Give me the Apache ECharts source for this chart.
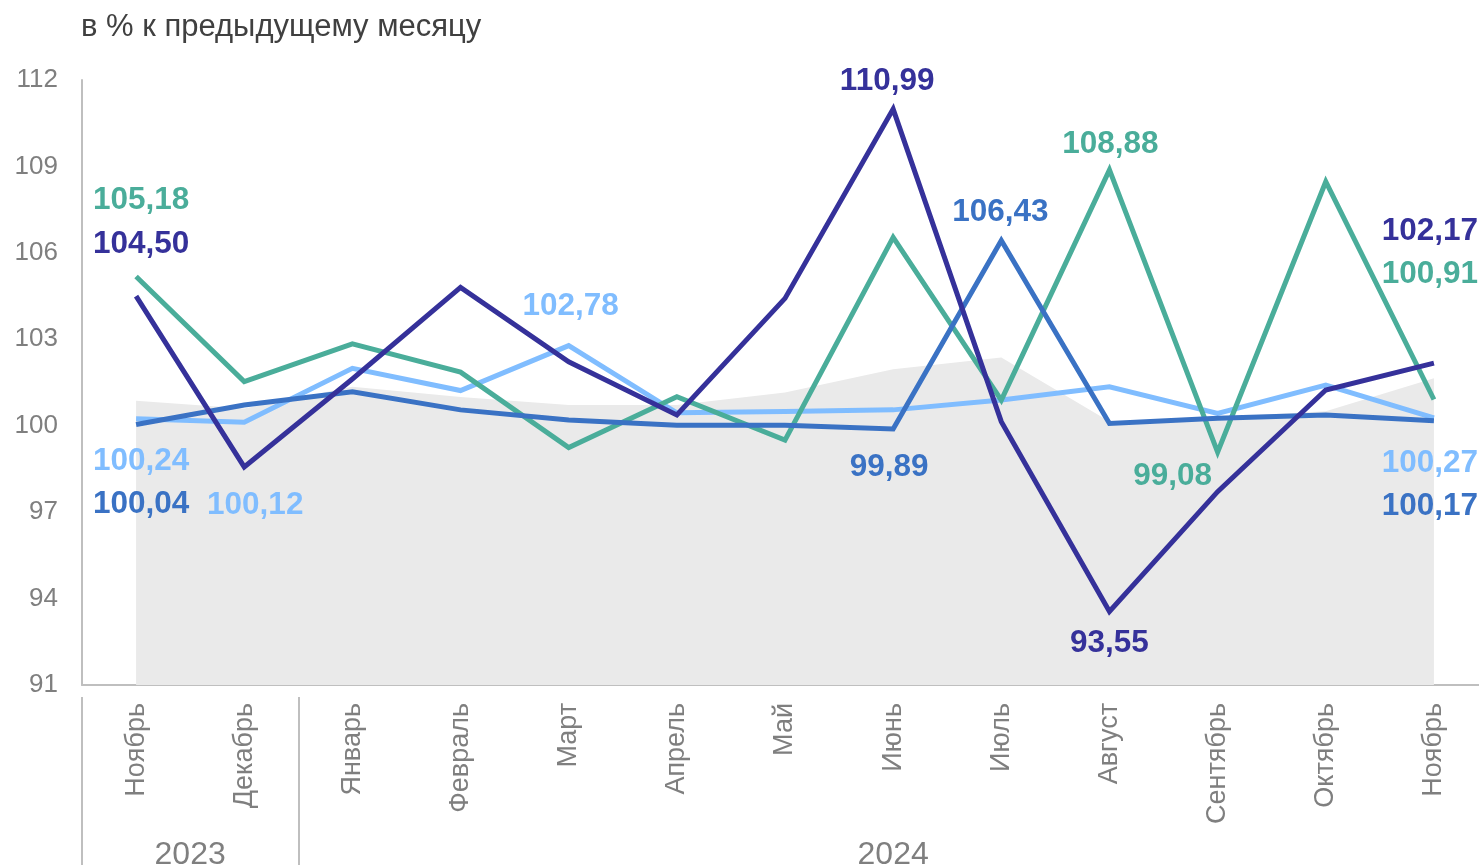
<!DOCTYPE html>
<html><head><meta charset="utf-8">
<script src="https://cdn.jsdelivr.net/npm/echarts@6/dist/echarts.min.js"></script>
<style>html,body{margin:0;padding:0;background:#fff;overflow:hidden}#c{width:1479px;height:865px}</style>
</head><body><div id="c"></div>
<script>
const months = ['Ноябрь','Декабрь','Январь','Февраль','Март','Апрель','Май','Июнь','Июль','Август','Сентябрь','Октябрь','Ноябрь'];
const years = ['2023','2024'];
const yearSpans = [2, 11];
const yTicks = [91, 94, 97, 100, 103, 106, 109, 112];
const background = [100.87, 100.6, 101.35, 101.0, 100.72, 100.72, 101.15, 101.96, 102.37, 100.15, 100.3, 100.5, 101.65];
const lightBlue = [100.24, 100.12, 101.99, 101.22, 102.78, 100.45, 100.49, 100.55, 100.89, 101.35, 100.43, 101.41, 100.27];
const midBlue = [100.04, 100.72, 101.18, 100.55, 100.2, 100.02, 100.02, 99.89, 106.43, 100.08, 100.26, 100.37, 100.17];
const teal = [105.18, 101.53, 102.84, 101.86, 99.24, 101.01, 99.5, 106.54, 100.89, 108.88, 99.08, 108.47, 100.91];
const navy = [104.50, 98.57, 101.62, 104.8, 102.22, 100.37, 104.42, 110.99, 100.14, 93.55, 97.71, 101.24, 102.17];

const FONT = '"Liberation Sans", Arial, sans-serif';
const fmt = v => v.toFixed(2).replace('.', ',');

// label placements (index -> [dx, dy] offset from point)
const labelPlacement = {
  lightBlue: {0: [5, 43], 1: [11, 83], 4: [2, -39], 12: [-4, 45]},
  midBlue: {0: [5, 80], 7: [-4, 38], 8: [-1, -28], 12: [-4, 85]},
  teal: {0: [5, -76], 9: [1, -26], 10: [-45, 24], 12: [-4, -125]},
  navy: {0: [5, -52], 7: [-6, -28], 9: [0, 32], 12: [-4, -132]}
};

function buildData(values, key, color) {
  const place = labelPlacement[key];
  return values.map((v, i) => {
    const item = {value: v};
    if (place[i]) {
      item.label = {show: true, position: 'inside', offset: place[i], formatter: fmt(v),
        color: color, fontSize: 31.5, fontWeight: 'bold', fontFamily: FONT};
    }
    return item;
  });
}

function lineSeries(name, values, key, color, z) {
  return {
    name, type: 'line', data: buildData(values, key, color), z: z,
    symbol: 'circle', symbolSize: 0.1, showSymbol: true,
    itemStyle: {color: 'rgba(0,0,0,0)'},
    lineStyle: {color: color, width: 5, join: 'miter'},
    label: {show: false},
    emphasis: {disabled: true},
    animation: false
  };
}

// group boundaries and centres for year axis
const bounds = [0];
yearSpans.forEach(s => bounds.push(bounds[bounds.length - 1] + s));
const centres = yearSpans.map((s, i) => bounds[i] + s / 2);

const chart = echarts.init(document.getElementById('c'), null, {renderer: 'canvas'});
chart.setOption({
  animation: false,
  title: {text: 'в % к предыдущему месяцу', left: 76, top: 7,
    textStyle: {fontFamily: FONT, fontSize: 31, fontWeight: 'normal', color: '#404040'}},
  grid: {left: 82, top: 80, height: 605, width: 1406, containLabel: false, outerBoundsMode: 'none'},
  xAxis: [{
    type: 'category', data: months, boundaryGap: true,
    axisLine: {show: true, lineStyle: {color: '#bfbfbf', width: 2}},
    axisTick: {show: false},
    axisLabel: {rotate: 90, margin: 18, interval: 0, color: '#7f7f7f', fontSize: 27, fontFamily: FONT}
  }, {
    type: 'value', min: 0, max: bounds[bounds.length - 1], position: 'bottom', offset: 12,
    axisLine: {show: false}, splitLine: {show: false},
    axisTick: {show: true, customValues: bounds, length: 170, inside: false, lineStyle: {color: '#bfbfbf', width: 2}},
    axisLabel: {show: true, customValues: centres, margin: 142, color: '#7f7f7f', fontSize: 32, fontFamily: FONT,
      formatter: v => years[centres.indexOf(v)] || ''}
  }],
  yAxis: {
    type: 'value', min: 91, max: 112, interval: 3,
    axisLine: {show: true, lineStyle: {color: '#bfbfbf', width: 2}},
    axisTick: {show: false}, splitLine: {show: false},
    axisLabel: {margin: 24, color: '#7f7f7f', fontSize: 26, fontFamily: FONT,
      formatter: v => yTicks.includes(v) ? String(v) : ''}
  },
  series: [
    {name: 'bg', type: 'line', data: background, symbol: 'none', z: 1,
      lineStyle: {width: 0}, areaStyle: {color: '#eaeaea', origin: 'start', opacity: 1}, emphasis: {disabled: true}},
    lineSeries('lb', lightBlue, 'lightBlue', '#80bdff', 2),
    lineSeries('teal', teal, 'teal', '#4aad9a', 3),
    lineSeries('mb', midBlue, 'midBlue', '#3a72c4', 4),
    lineSeries('navy', navy, 'navy', '#35319a', 5)
  ]
});
</script></body></html>
